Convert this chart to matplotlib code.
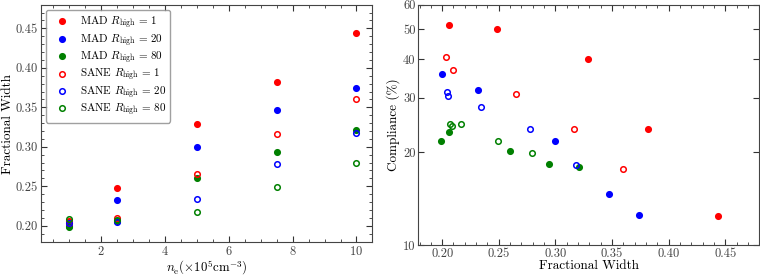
import matplotlib
matplotlib.use("Agg")
import matplotlib.pyplot as plt
from matplotlib.ticker import AutoMinorLocator, FixedLocator, FixedFormatter, NullLocator

plt.rcParams['font.family'] = 'serif'
plt.rcParams['font.serif'] = ['cmr10']
plt.rcParams['mathtext.fontset'] = 'cm'
plt.rcParams['axes.formatter.use_mathtext'] = True

# electron density (x 10^5 cm^-3)
n_e = [1, 2.5, 5, 7.5, 10]

# fractional width per model
mad_r1 = [0.206, 0.248, 0.329, 0.382, 0.444]
mad_r20 = [0.200, 0.232, 0.300, 0.347, 0.374]
mad_r80 = [0.199, 0.206, 0.260, 0.294, 0.321]
sane_r1 = [0.203, 0.210, 0.265, 0.316, 0.360]
sane_r20 = [0.204, 0.205, 0.234, 0.278, 0.318]
sane_r80 = [0.209, 0.207, 0.217, 0.249, 0.279]

# compliance (%) per model
comp_mad_r1 = [51.4, 50.1, 40.1, 23.8, 12.4]
comp_mad_r20 = [35.9, 31.7, 21.7, 14.6, 12.5]
comp_mad_r80 = [21.8, 23.2, 20.2, 18.3, 17.9]
comp_sane_r1 = [40.6, 37.0, 30.8, 23.8, 17.6]
comp_sane_r20 = [31.3, 30.4, 28.0, 23.7, 18.1]
comp_sane_r80 = [24.3, 24.6, 24.7, 21.8, 19.8]

series = [
    (r'MAD $R_{\rm high}\,=\,1$', mad_r1, comp_mad_r1, 'red', True),
    (r'MAD $R_{\rm high}\,=\,20$', mad_r20, comp_mad_r20, 'blue', True),
    (r'MAD $R_{\rm high}\,=\,80$', mad_r80, comp_mad_r80, 'green', True),
    (r'SANE $R_{\rm high}\,=\,1$', sane_r1, comp_sane_r1, 'red', False),
    (r'SANE $R_{\rm high}\,=\,20$', sane_r20, comp_sane_r20, 'blue', False),
    (r'SANE $R_{\rm high}\,=\,80$', sane_r80, comp_sane_r80, 'green', False),
]

fig = plt.figure(figsize=(7.6, 2.76), dpi=100)
ax1 = fig.add_axes([0.0535, 0.122, 0.4365, 0.861])
ax2 = fig.add_axes([0.5505, 0.112, 0.4485, 0.871])

for label, fw, comp, col, filled in series:
    fc = col if filled else 'none'
    ax1.plot(n_e, fw, 'o', ms=4, mfc=fc, mec=col, mew=1.1, label=label, ls='none')
    ax2.plot(fw, comp, 'o', ms=4, mfc=fc, mec=col, mew=1.1, ls='none')

# left panel
ax1.set_xlim(0.1, 10.5)
ax1.set_ylim(0.179, 0.48)
ax1.set_xticks([2, 4, 6, 8, 10])
ax1.set_yticks([0.20, 0.25, 0.30, 0.35, 0.40, 0.45])
ax1.set_yticklabels(['0.20', '0.25', '0.30', '0.35', '0.40', '0.45'])
ax1.xaxis.set_minor_locator(AutoMinorLocator(4))
ax1.yaxis.set_minor_locator(AutoMinorLocator(5))
ax1.set_xlabel(r'$n_{\rm e}(\times 10^5{\rm cm}^{-3})$', fontsize=9.3, labelpad=0)
ax1.set_ylabel('Fractional Width', fontsize=9.5, labelpad=1)
leg = ax1.legend(loc='upper left', fontsize=8, frameon=True, fancybox=True,
                 borderaxespad=0.5, handletextpad=0.6, labelspacing=0.08,
                 borderpad=0.4)
leg.get_frame().set_edgecolor('#888888')

# right panel
ax2.set_yscale('log')
ax2.set_xlim(0.179, 0.48)
ax2.set_ylim(10, 60)
ax2.yaxis.set_major_locator(FixedLocator([10, 20, 30, 40, 50, 60]))
ax2.yaxis.set_major_formatter(FixedFormatter(['10', '20', '30', '40', '50', '60']))
ax2.yaxis.set_minor_locator(NullLocator())
ax2.set_xticks([0.20, 0.25, 0.30, 0.35, 0.40, 0.45])
ax2.set_xticklabels(['0.20', '0.25', '0.30', '0.35', '0.40', '0.45'])
ax2.xaxis.set_minor_locator(AutoMinorLocator(5))
ax2.set_xlabel('Fractional Width', fontsize=9.5, labelpad=0)
ax2.set_ylabel('Compliance (%)', fontsize=9.5, labelpad=2)

for ax in (ax1, ax2):
    ax.tick_params(which='both', direction='in', top=True, right=True,
                   labelsize=9, colors='#333333', labelcolor='#444444')
    ax.tick_params(which='major', length=4, pad=2)
    ax.tick_params(which='minor', length=2)
    for sp in ax.spines.values():
        sp.set_color('#444444')

fig.savefig('out.png', dpi=100)
